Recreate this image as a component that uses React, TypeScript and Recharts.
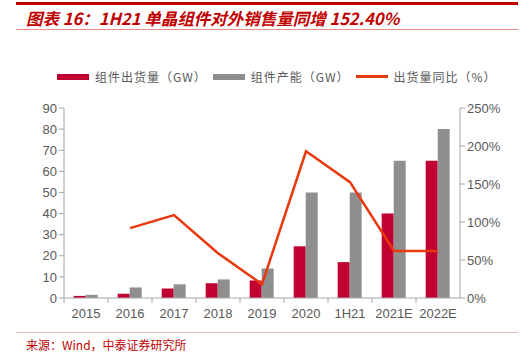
import React from 'react';
import { Bar, ComposedChart, Line, XAxis, YAxis } from 'recharts';

const categories = ['2015', '2016', '2017', '2018', '2019', '2020', '1H21', '2021E', '2022E'];
const shipments = [1, 2, 4.5, 7, 8.3, 24.5, 17, 40, 65];
const capacity = [1.5, 5, 6.5, 8.8, 14, 50, 50, 65, 80];
const growth = [null, 0.92, 1.09, 0.59, 0.18, 1.93, 1.524, 0.62, 0.62];
const leftTicks = [0, 10, 20, 30, 40, 50, 60, 70, 80, 90];
const rightTicks = [0, 0.5, 1, 1.5, 2, 2.5];

const data = categories.map((name, i) => ({
  name,
  shipments: shipments[i],
  capacity: capacity[i],
  growth: growth[i],
}));

const RED = '#C00030';
const GRAY = '#8F8F8F';
const LINE = '#E8380D';
const AXIS = '#A6A6A6';
const TEXT = '#595959';
const tickFont = { fill: TEXT, fontSize: 13, fontFamily: 'Liberation Sans, Arial, sans-serif' };

const CHART_W = 530;
const MARGIN_L = 64;
const MARGIN_R = 70;
const HALF_BAND = (CHART_W - MARGIN_L - MARGIN_R) / categories.length / 2;

function XTick(props: any) {
  const { x, y, payload } = props;
  return (
    <g>
      <line x1={x - HALF_BAND} x2={x - HALF_BAND} y1={y - 8} y2={y - 3} stroke={AXIS} />
      <text x={x} y={y + 12} textAnchor="middle" {...tickFont}>
        {payload.value}
      </text>
    </g>
  );
}

const cjk = '"Noto Sans CJK SC", sans-serif';

function LegendItem({ color, label, line }: { color: string; label: string; line?: boolean }) {
  return (
    <div style={{ display: 'flex', alignItems: 'center', marginRight: 6 }}>
      <div style={{ width: 32, height: line ? 3 : 6, background: color, marginRight: 6 }} />
      <span style={{ fontSize: 12, color: TEXT, fontFamily: cjk, letterSpacing: 1 }}>{label}</span>
    </div>
  );
}

export default function App() {
  return (
    <div style={{ position: 'absolute', left: 0, top: 0, width: 530, height: 361, background: '#fff', overflow: 'hidden' }}>
      <div style={{ position: 'absolute', left: 16, top: 2, width: 502, height: 3, background: '#C00000' }} />
      <div
        style={{
          position: 'absolute',
          left: 26,
          top: 6,
          fontSize: 16.5,
          fontWeight: 'bold',
          fontStyle: 'italic',
          color: '#C00000',
          fontFamily: cjk,
          whiteSpace: 'nowrap',
        }}
      >
        图表 16：1H21 单晶组件对外销售量同增 152.40%
      </div>
      <div style={{ position: 'absolute', left: 16, top: 29, width: 502, height: 1, background: '#E88A8A' }} />

      <div style={{ position: 'absolute', left: 57, top: 68, display: 'flex' }}>
        <LegendItem color={RED} label="组件出货量（GW）" />
        <LegendItem color={GRAY} label="组件产能（GW）" />
        <LegendItem color={LINE} label="出货量同比（%）" line />
      </div>

      <div style={{ position: 'absolute', left: 0, top: 60 }}>
        <ComposedChart
          width={CHART_W}
          height={265}
          data={data}
          margin={{ top: 48, right: 10, left: 4, bottom: 0 }}
          barCategoryGap="22%"
          barGap={0}
        >
          <XAxis
            dataKey="name"
            height={27}
            axisLine={{ stroke: AXIS }}
            tickLine={false}
            tick={<XTick />}
            interval={0}
          />
          <YAxis
            yAxisId="left"
            width={60}
            domain={[0, 90]}
            ticks={leftTicks}
            tick={tickFont}
            axisLine={{ stroke: AXIS }}
            tickLine={{ stroke: AXIS }}
            tickSize={5}
            interval={0}
          />
          <YAxis
            yAxisId="right"
            orientation="right"
            width={60}
            domain={[0, 2.5]}
            ticks={rightTicks}
            tickFormatter={(v: number) => `${Math.round(v * 100)}%`}
            tick={tickFont}
            axisLine={{ stroke: AXIS }}
            tickLine={{ stroke: AXIS }}
            tickSize={5}
            interval={0}
          />
          <Bar yAxisId="left" dataKey="shipments" fill={RED} isAnimationActive={false} />
          <Bar yAxisId="left" dataKey="capacity" fill={GRAY} isAnimationActive={false} />
          <Line
            yAxisId="right"
            dataKey="growth"
            stroke={LINE}
            strokeWidth={2.5}
            dot={false}
            type="linear"
            isAnimationActive={false}
          />
        </ComposedChart>
      </div>

      <div style={{ position: 'absolute', left: 16, top: 332, width: 502, height: 1, background: '#F2B8B8' }} />
      <div
        style={{
          position: 'absolute',
          left: 26,
          top: 336,
          fontSize: 12,
          color: '#C00000',
          fontFamily: cjk,
          whiteSpace: 'nowrap',
        }}
      >
        来源：Wind，中泰证券研究所
      </div>
    </div>
  );
}
